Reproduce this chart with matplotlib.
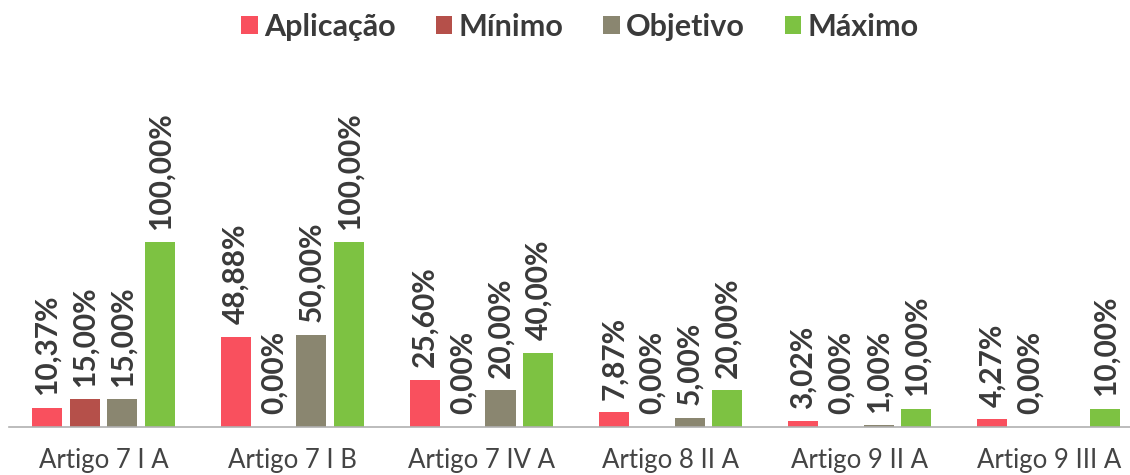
import numpy as np
import matplotlib
matplotlib.use("Agg")
import matplotlib.pyplot as plt

categorias = ["Artigo 7 I A", "Artigo 7 I B", "Artigo 7 IV A", "Artigo 8 II A", "Artigo 9 II A", "Artigo 9 III A"]
series = ["Aplicação", "Mínimo", "Objetivo", "Máximo"]
aplicacao = [10.37, 48.88, 25.60, 7.87, 3.02, 4.27]
minimo = [15.00, 0.00, 0.00, 0.00, 0.00, 0.00]
objetivo = [15.00, 50.00, 20.00, 5.00, 1.00, None]
maximo = [100.00, 100.00, 40.00, 20.00, 10.00, 10.00]

cores = ["#F9505E", "#B5504A", "#8A8670", "#7DC242"]
texto = "#3a3a3a"

fig = plt.figure(figsize=(11.3, 4.75), dpi=100)
# eixo: linha de base em y=427 px, 100% = 185 px
ax = fig.add_axes([9 / 1130, 48 / 475, 1121 / 1130, 370 / 475])

x = np.arange(len(categorias))
largura = 0.159
passo = 0.2
for i, (nome, vals, cor) in enumerate(zip(series, [aplicacao, minimo, objetivo, maximo], cores)):
    pos = x + (i - 1.5) * passo
    for xi, v in zip(pos, vals):
        if v is None:
            continue
        ax.bar(xi, v, width=largura, color=cor)
        ax.annotate(f"{v:.2f}%".replace(".", ","), (xi, v), xytext=(0, 9),
                    textcoords="offset points", rotation=90, ha="center", va="bottom",
                    fontsize=21.5, fontweight="bold", color=texto, family="Lato")
    ax.bar(0, 0, width=0, color=cor, label=nome)

ax.set_xlim(-0.5, 5.43)
ax.set_ylim(0, 200)
ax.set_xticks(x)
ax.set_xticklabels(categorias, fontsize=18.5, color="#444444", family="Lato")
ax.tick_params(axis="x", length=0, pad=15)
ax.set_yticks([])
for s in ["top", "right", "left"]:
    ax.spines[s].set_visible(False)
ax.spines["bottom"].set_color("#b0b0b0")
ax.spines["bottom"].set_linewidth(1.2)

leg = fig.legend(loc="center", bbox_to_anchor=(580 / 1130, 1 - 27 / 475), ncol=4, frameon=False,
                 prop={"family": "Lato", "weight": "bold", "size": 22},
                 handlelength=0.55, handleheight=0.55, handletextpad=0.2, columnspacing=1.3)
for t in leg.get_texts():
    t.set_color(texto)

fig.savefig("out.png", dpi=100)
